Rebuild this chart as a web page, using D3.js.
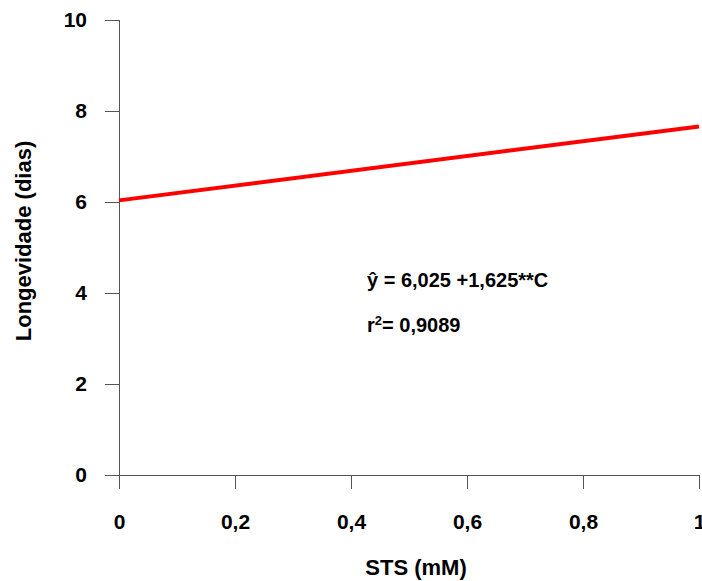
<!DOCTYPE html>
<html>
<head>
<meta charset="utf-8">
<script src="https://cdn.jsdelivr.net/npm/d3@7"></script>
<style>
  body { margin: 0; background: #fff; }
  svg text { font-family: "Liberation Sans", Arial, sans-serif; font-weight: bold; fill: #000; }
</style>
</head>
<body>
<div id="chart"></div>
<script>
// data
var stsValues = [0, 1];
var longevity = [6.025, 7.65];
var xTicks = [0, 0.2, 0.4, 0.6, 0.8, 1];
var yTicks = [0, 2, 4, 6, 8, 10];

var svgWidth = 702;
var svgHeight = 581;

var margin = { top: 19.5, right: 3, bottom: 106.5, left: 119 };
var width = svgWidth - margin.left - margin.right;
var height = svgHeight - margin.top - margin.bottom;

var svg = d3.select("#chart").append("svg")
    .attr("width", svgWidth)
    .attr("height", svgHeight);

var chartGroup = svg.append("g")
    .attr("transform", `translate(${margin.left}, ${margin.top})`);

var xScale = d3.scaleLinear().domain([0, 1]).range([0, 580]);
var yScale = d3.scaleLinear().domain([0, 10]).range([height, 0]);

var fmt = d => String(d).replace(".", ",");

var bottomAxis = d3.axisBottom(xScale)
    .tickValues(xTicks)
    .tickFormat(fmt)
    .tickSize(14)
    .tickSizeOuter(0)
    .tickPadding(26);

var leftAxis = d3.axisLeft(yScale)
    .tickValues(yTicks)
    .tickFormat(fmt)
    .tickSize(14)
    .tickSizeOuter(0)
    .tickPadding(18);

var xAxis = chartGroup.append("g")
    .attr("transform", `translate(0, ${height})`)
    .call(bottomAxis);

var yAxis = chartGroup.append("g")
    .call(leftAxis);

[xAxis, yAxis].forEach(function (ax) {
    ax.selectAll("path, line")
        .attr("stroke", "#555")
        .attr("shape-rendering", "crispEdges");
    ax.selectAll("text")
        .attr("font-size", "21px")
        .attr("font-family", null);
});

// regression line
var line = d3.line()
    .x((d, i) => xScale(stsValues[i]))
    .y(d => yScale(d));

chartGroup.append("path")
    .datum(longevity)
    .attr("fill", "none")
    .attr("stroke", "#ff0000")
    .attr("stroke-width", 4)
    .attr("d", line);

// axis titles
svg.append("text")
    .attr("x", 416)
    .attr("y", 575)
    .attr("text-anchor", "middle")
    .attr("font-size", "22px")
    .text("STS (mM)");

svg.append("text")
    .attr("transform", "translate(30.5, 241) rotate(-90)")
    .attr("text-anchor", "middle")
    .attr("font-size", "22px")
    .text("Longevidade (dias)");

// equation
svg.append("text")
    .attr("x", 367)
    .attr("y", 287)
    .attr("font-size", "20px")
    .text("\u0177 = 6,025 +1,625**C");

var r2 = svg.append("text")
    .attr("x", 367)
    .attr("y", 332)
    .attr("font-size", "20px");
r2.append("tspan").text("r");
r2.append("tspan").attr("font-size", "13px").attr("dy", -7).text("2");
r2.append("tspan").attr("dy", 7).text("= 0,9089");
</script>
</body>
</html>
